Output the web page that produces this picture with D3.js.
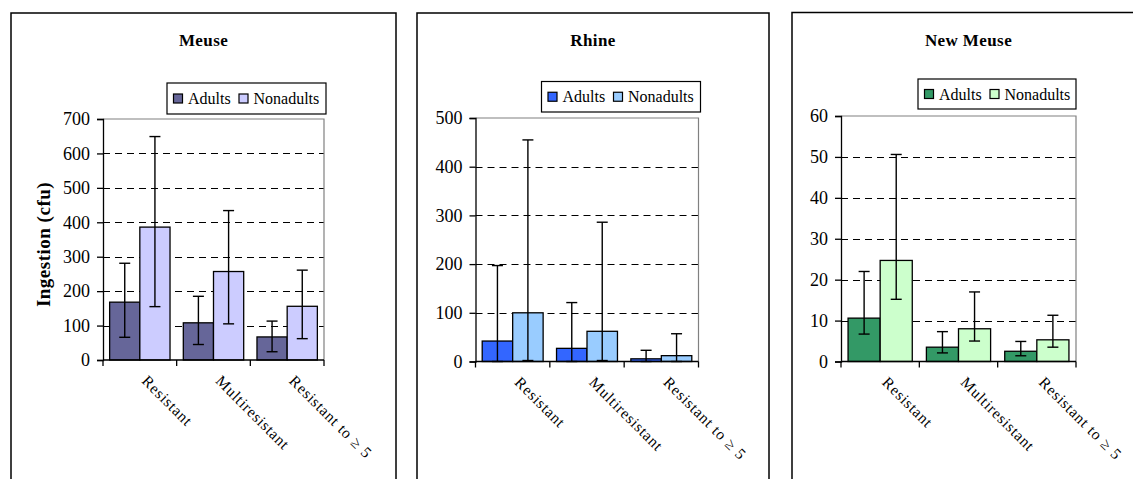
<!DOCTYPE html>
<html>
<head>
<meta charset="utf-8">
<script src="https://cdn.jsdelivr.net/npm/d3@7"></script>
<style>
  html, body { margin: 0; padding: 0; background: #fff; }
  svg { display: block; }
  svg text { font-family: "Liberation Serif", "Times New Roman", serif !important; fill: #000; }
</style>
</head>
<body>
<svg id="chart" width="1133" height="479"></svg>
<script>
// Resistance categories shared by all three rivers
const categories = ["Resistant", "Multiresistant", "Resistant to \u2265 5"];
const seriesNames = ["Adults", "Nonadults"];

// Meuse: mean ingestion (cfu) and error-bar limits
const meuseAdults = [168, 108, 67];
const meuseAdultsLow = [66, 45, 24];
const meuseAdultsHigh = [281, 185, 113];
const meuseNonadults = [386, 257, 156];
const meuseNonadultsLow = [155, 105, 62];
const meuseNonadultsHigh = [649, 434, 261];
const meuseTicks = [0, 100, 200, 300, 400, 500, 600, 700];

// Rhine
const rhineAdults = [42, 27, 5.5];
const rhineAdultsLow = [0, 0, 0];
const rhineAdultsHigh = [197, 121, 23];
const rhineNonadults = [100, 62, 12];
const rhineNonadultsLow = [2, 2, 0];
const rhineNonadultsHigh = [455, 286, 57];
const rhineTicks = [0, 100, 200, 300, 400, 500];

// New Meuse
const newMeuseAdults = [10.6, 3.5, 2.5];
const newMeuseAdultsLow = [6.7, 2.1, 1.4];
const newMeuseAdultsHigh = [22, 7.3, 4.9];
const newMeuseNonadults = [24.7, 8.0, 5.3];
const newMeuseNonadultsLow = [15.2, 5.0, 3.5];
const newMeuseNonadultsHigh = [50.6, 17, 11.3];
const newMeuseTicks = [0, 10, 20, 30, 40, 50, 60];

const panels = [
  {
    title: "Meuse", yTitle: "Ingestion (cfu)",
    colors: ["#666699", "#CCCCFF"],
    ticks: meuseTicks,
    series: [
      { v: meuseAdults, lo: meuseAdultsLow, hi: meuseAdultsHigh },
      { v: meuseNonadults, lo: meuseNonadultsLow, hi: meuseNonadultsHigh }
    ],
    frame: { x0: 11, x1: 396, y0: 13 },
    plot: { left: 103, right: 324, top: 119, bottom: 360 },
    legend: { x0: 167, x1: 326, y0: 83, y1: 114 }
  },
  {
    title: "Rhine",
    colors: ["#3366FF", "#99CCFF"],
    ticks: rhineTicks,
    series: [
      { v: rhineAdults, lo: rhineAdultsLow, hi: rhineAdultsHigh },
      { v: rhineNonadults, lo: rhineNonadultsLow, hi: rhineNonadultsHigh }
    ],
    frame: { x0: 417, x1: 769, y0: 13 },
    plot: { left: 475.5, right: 698.5, top: 118, bottom: 361.5 },
    legend: { x0: 541.5, x1: 700.5, y0: 81.5, y1: 112 }
  },
  {
    title: "New Meuse",
    colors: ["#339966", "#CCFFCC"],
    ticks: newMeuseTicks,
    series: [
      { v: newMeuseAdults, lo: newMeuseAdultsLow, hi: newMeuseAdultsHigh },
      { v: newMeuseNonadults, lo: newMeuseNonadultsLow, hi: newMeuseNonadultsHigh }
    ],
    frame: { x0: 792, x1: 1145, y0: 12.5 },
    plot: { left: 841, right: 1076, top: 116, bottom: 361.5 },
    legend: { x0: 918, x1: 1076, y0: 79, y1: 109 }
  }
];

const svg = d3.select("#chart");

panels.forEach(p => {
  const g = svg.append("g");
  const f = p.frame, pl = p.plot, lg = p.legend;

  // outer chart frame (bottom edge runs off the page)
  g.append("rect")
    .attr("x", f.x0).attr("y", f.y0)
    .attr("width", f.x1 - f.x0).attr("height", 520)
    .attr("fill", "#fff").attr("stroke", "#000").attr("stroke-width", 1.5);

  // title
  g.append("text")
    .attr("x", (f.x0 + f.x1) / 2).attr("y", 46)
    .attr("text-anchor", "middle")
    .attr("font-weight", "bold").attr("font-size", 17)
    .attr("letter-spacing", 0.4)
    .text(p.title);

  const y = d3.scaleLinear()
    .domain([0, d3.max(p.ticks)])
    .range([pl.bottom, pl.top]);

  const x0 = d3.scaleBand()
    .domain(categories)
    .range([pl.left, pl.right])
    .padding(0);

  const x1 = d3.scaleBand()
    .domain(seriesNames)
    .range([0, x0.bandwidth()])
    .paddingInner(0)
    .paddingOuter(0.22);

  // dashed gridlines (top one is the plot border)
  g.append("g").selectAll("line")
    .data(p.ticks.filter(t => t > 0 && t < d3.max(p.ticks)))
    .join("line")
    .attr("x1", pl.left).attr("x2", pl.right)
    .attr("y1", d => Math.round(y(d)) + 0.5).attr("y2", d => Math.round(y(d)) + 0.5)
    .attr("stroke", "#000").attr("stroke-width", 1)
    .attr("stroke-dasharray", "7,5");

  // plot area border: grey top and right edges
  g.append("path")
    .attr("d", `M${pl.left},${pl.top}H${pl.right}V${pl.bottom}`)
    .attr("fill", "none").attr("stroke", "#808080").attr("stroke-width", 1.2);

  // bars
  p.series.forEach((s, si) => {
    g.append("g").selectAll("rect")
      .data(categories.map((c, i) => ({ c, v: s.v[i] })))
      .join("rect")
      .attr("x", d => x0(d.c) + x1(seriesNames[si]))
      .attr("width", x1.bandwidth())
      .attr("y", d => y(d.v))
      .attr("height", d => y(0) - y(d.v))
      .attr("fill", p.colors[si])
      .attr("stroke", "#000").attr("stroke-width", 1.3);
  });

  // error bars
  p.series.forEach((s, si) => {
    const eg = g.append("g").attr("stroke", "#000").attr("stroke-width", 1.4);
    categories.forEach((c, i) => {
      const cx = x0(c) + x1(seriesNames[si]) + x1.bandwidth() / 2;
      eg.append("line").attr("x1", cx).attr("x2", cx)
        .attr("y1", y(s.lo[i])).attr("y2", y(s.hi[i]));
      [s.lo[i], s.hi[i]].forEach(val => {
        eg.append("line").attr("x1", cx - 5.5).attr("x2", cx + 5.5)
          .attr("y1", y(val)).attr("y2", y(val));
      });
    });
  });

  // y axis
  const yAxis = d3.axisLeft(y).tickValues(p.ticks).tickSize(6).tickPadding(7)
    .tickFormat(d3.format("d"));
  const ya = g.append("g").attr("transform", `translate(${pl.left},0)`).call(yAxis);
  ya.select(".domain").attr("stroke", "#000").attr("stroke-width", 1.3);
  ya.selectAll(".tick line").attr("stroke", "#000").attr("stroke-width", 1.3);
  ya.selectAll(".tick text").attr("font-size", 18);

  // x axis: ticks at category boundaries
  const xa = g.append("g");
  xa.append("line")
    .attr("x1", pl.left).attr("x2", pl.right)
    .attr("y1", pl.bottom).attr("y2", pl.bottom)
    .attr("stroke", "#000").attr("stroke-width", 1.3);
  const bounds = categories.map(c => x0(c)).concat([x0(categories[categories.length - 1]) + x0.bandwidth()]);
  xa.selectAll("line.tk").data(bounds).join("line")
    .attr("class", "tk")
    .attr("x1", d => d).attr("x2", d => d)
    .attr("y1", pl.bottom).attr("y2", pl.bottom + 6)
    .attr("stroke", "#000").attr("stroke-width", 1.3);

  // rotated category labels
  xa.selectAll("text").data(categories).join("text")
    .attr("transform", d => `translate(${x0(d) + x0.bandwidth() / 2 + 5},${pl.bottom + 18}) rotate(45)`)
    .attr("text-anchor", "start")
    .attr("dy", "0.35em")
    .attr("font-size", 15.5)
    .attr("letter-spacing", 0.8)
    .text(d => d);

  // legend
  const leg = g.append("g");
  leg.append("rect")
    .attr("x", lg.x0).attr("y", lg.y0)
    .attr("width", lg.x1 - lg.x0).attr("height", lg.y1 - lg.y0)
    .attr("fill", "#fff").attr("stroke", "#000").attr("stroke-width", 1.2);
  const ly = (lg.y0 + lg.y1) / 2;
  const itemX = [lg.x0 + 6.5, lg.x0 + 72];
  seriesNames.forEach((n, i) => {
    leg.append("rect")
      .attr("x", itemX[i]).attr("y", ly - 4.5)
      .attr("width", 9).attr("height", 9)
      .attr("fill", p.colors[i]).attr("stroke", "#000").attr("stroke-width", 1.2);
    leg.append("text")
      .attr("x", itemX[i] + 14.5).attr("y", ly)
      .attr("dy", "0.35em")
      .attr("font-size", 16)
      .text(n);
  });

  // y-axis title
  if (p.yTitle) {
    g.append("text")
      .attr("transform", `translate(43,${(pl.top + pl.bottom) / 2 + 5}) rotate(-90)`)
      .attr("text-anchor", "middle")
      .attr("dy", "0.35em")
      .attr("font-weight", "bold").attr("font-size", 19)
      .attr("letter-spacing", 0.5)
      .text(p.yTitle);
  }
});
</script>
</body>
</html>
